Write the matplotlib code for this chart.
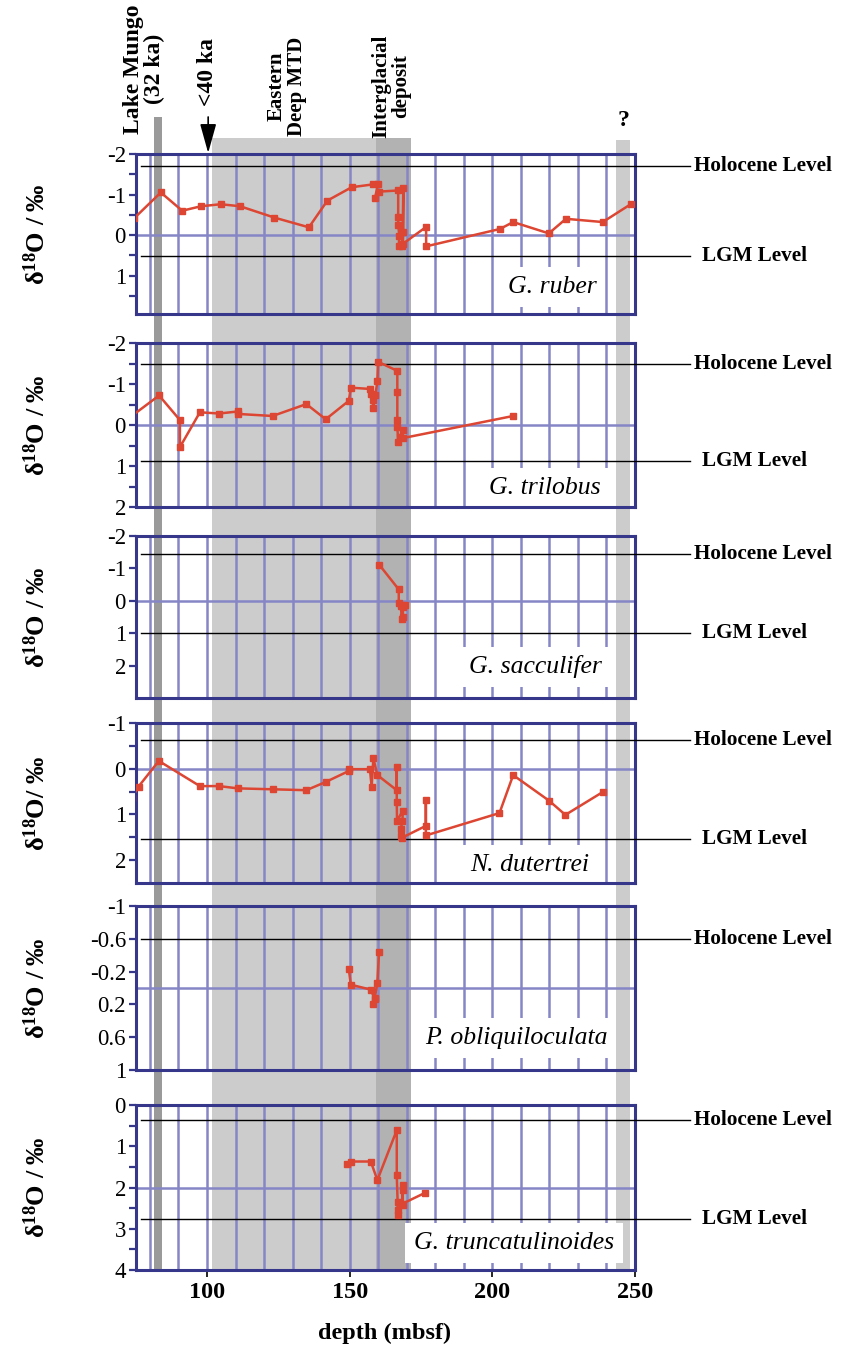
import matplotlib
matplotlib.use("Agg")
import matplotlib.pyplot as plt
from matplotlib.patches import Rectangle
from matplotlib import transforms

plt.rcParams['font.family'] = ['Liberation Serif', 'DejaVu Serif']
plt.rcParams['mathtext.fontset'] = 'custom'
plt.rcParams['mathtext.rm'] = 'Liberation Serif'
plt.rcParams['mathtext.bf'] = 'Liberation Serif:bold'
plt.rcParams['mathtext.it'] = 'Liberation Serif:italic'
plt.rcParams['axes.unicode_minus'] = False

# ---------------- data ----------------
ruber_depth = [74.4, 83.8, 91.3, 97.9, 104.8, 111.6, 123.6, 135.7, 142.2, 150.7, 158.2, 159.9,
               158.9, 160.1, 167.0, 167.0, 167.0, 167.4, 167.2, 168.5, 168.8, 168.8, 168.6,
               176.8, 176.8, 202.7, 207.3, 219.8, 225.8, 238.7, 248.5]
ruber_d18O = [-0.41, -1.05, -0.60, -0.71, -0.76, -0.71, -0.43, -0.19, -0.85, -1.18, -1.25, -1.25,
              -0.92, -1.07, -1.10, -0.45, -0.25, 0.02, 0.27, 0.27, -1.15, -0.08, 0.22,
              -0.20, 0.28, -0.15, -0.32, -0.04, -0.40, -0.32, -0.76]

trilobus_depth = [73.8, 83.2, 90.5, 90.5, 97.5, 104.2, 110.8, 110.8, 123.0, 134.8, 141.6, 149.7,
                  150.4, 157.0, 157.6, 158.0, 158.3, 159.0, 159.7, 160.0, 166.7, 166.7, 166.7,
                  166.7, 167.0, 167.5, 168.6, 168.6, 207.3]
trilobus_d18O = [-0.23, -0.72, -0.12, 0.54, -0.31, -0.28, -0.33, -0.27, -0.22, -0.51, -0.14, -0.59,
                 -0.91, -0.88, -0.75, -0.60, -0.42, -0.72, -1.07, -1.54, -1.32, -0.80, -0.12,
                 0.04, 0.42, 0.30, 0.12, 0.32, -0.22]

sacculifer_depth = [160.3, 167.2, 167.2, 169.5, 168.0, 168.2, 168.7, 168.6]
sacculifer_d18O = [-1.12, -0.35, 0.08, 0.13, 0.15, 0.55, 0.50, 0.20]

dutertrei_depth = [73.8, 76.0, 83.1, 97.5, 104.2, 110.8, 123.0, 134.8, 141.6, 149.7, 149.9, 157.1,
                   157.7, 158.3, 159.7, 166.5, 166.5, 166.5, 166.6, 168.6, 168.5, 167.9, 167.9,
                   168.3, 176.7, 176.7, 176.7, 202.5, 207.3, 219.9, 225.6, 238.7]
dutertrei_d18O = [0.63, 0.39, -0.17, 0.38, 0.38, 0.43, 0.45, 0.47, 0.29, 0.05, 0.01, 0.01,
                  0.40, -0.23, 0.14, 0.47, -0.04, 0.72, 1.14, 0.92, 1.15, 1.32, 1.48,
                  1.51, 1.25, 0.68, 1.46, 0.97, 0.14, 0.70, 1.01, 0.51]

obliq_depth = [149.7, 150.4, 157.4, 158.7, 158.2, 158.8, 159.7, 160.3]
obliq_d18O = [-0.23, -0.04, 0.02, 0.13, 0.20, 0.12, -0.06, -0.44]

trunc_depth = [149.2, 150.4, 157.4, 159.7, 166.5, 166.5, 166.8, 166.8, 167.0, 168.6, 168.6,
               168.6, 168.3, 176.4]
trunc_d18O = [1.44, 1.37, 1.37, 1.82, 0.61, 1.70, 2.34, 2.67, 2.55, 2.42, 1.94,
              2.06, 2.40, 2.13]

species = ["G. ruber", "G. trilobus", "G. sacculifer", "N. dutertrei",
           "P. obliquiloculata", "G. truncatulinoides"]
depths = [ruber_depth, trilobus_depth, sacculifer_depth, dutertrei_depth, obliq_depth, trunc_depth]
values = [ruber_d18O, trilobus_d18O, sacculifer_d18O, dutertrei_d18O, obliq_d18O, trunc_d18O]
holocene_level = [-1.70, -1.49, -1.43, -0.62, -0.60, 0.36]
lgm_level = [0.52, 0.89, 1.00, 1.53, None, 2.77]
ylims = [(-2, 1.95), (-2, 2), (-2, 3), (-1, 2.5), (-1, 1), (0, 4)]
major_ticks = [[-2, -1, 0, 1], [-2, -1, 0, 1, 2], [-2, -1, 0, 1, 2], [-1, 0, 1, 2],
               [-1, -0.6, -0.2, 0.2, 0.6, 1], [0, 1, 2, 3, 4]]
major_labels = [["-2", "-1", "0", "1"], ["-2", "-1", "0", "1", "2"], ["-2", "-1", "0", "1", "2"],
                ["-1", "0", "1", "2"], ["-1", "-0.6", "-0.2", "0.2", "0.6", "1"],
                ["0", "1", "2", "3", "4"]]
minor_ticks = [[-1.5, -0.5, 0.5, 1.5], [-1.5, -0.5, 0.5, 1.5], [], [-0.5, 0.5, 1.5],
               [], [0.5, 1.5, 2.5, 3.5]]
hgrid = [0, 0, 0, 0, 0, 2]
ylabels = ["$\\mathbf{\\delta^{18}O}$ / ‰"] * 3 + ["$\\mathbf{\\delta^{18}O}$/ ‰"] + \
          ["$\\mathbf{\\delta^{18}O}$ / ‰"] * 2

grid_depths = list(range(80, 250, 10))
x_ticks = [100, 150, 200, 250]
zones = [(81.5, 84.3, '#9a9a9a', 117), (101.8, 159.3, '#cccccc', 138),
         (159.3, 171.4, '#b2b2b2', 138), (243.2, 248.2, '#cccccc', 140)]

# ---------------- layout ----------------
W, H = 853, 1348
fig = plt.figure(figsize=(W / 100, H / 100), dpi=100)
L, R = 135.7, 635.0
XLIM = (75, 250)
panels_px = [(154, 314), (343, 507), (536, 698), (723, 883), (906, 1070), (1105, 1270)]
label_px = [(552, 287), (545, 488), (535, 667), (530, 865), (516, 1038), (514, 1243)]

def fx(px):
    return px / W

def fy(py):
    return 1 - py / H

navy = '#36368a'
gridc = '#8686c6'
red = '#dc4632'

# background axes for shaded zones
bg = fig.add_axes([fx(L), 0, fx(R) - fx(L), 1], zorder=0)
bg.set_xlim(*XLIM)
bg.set_ylim(H, 0)
bg.axis('off')
for x0, x1, c, top in zones:
    bg.add_patch(Rectangle((x0, top), x1 - x0, 1272 - top, facecolor=c, edgecolor='none'))

for i in range(6):
    top, bot = panels_px[i]
    ax = fig.add_axes([fx(L), fy(bot), fx(R) - fx(L), (bot - top) / H], zorder=1)
    ax.patch.set_alpha(0)
    ax.set_xlim(*XLIM)
    y0, y1 = ylims[i]
    ax.set_ylim(y1, y0)
    for g in grid_depths:
        ax.axvline(g, color=gridc, lw=1.8, zorder=1)
    ax.axhline(hgrid[i], color=gridc, lw=1.8, zorder=1)
    for s in ax.spines.values():
        s.set_color(navy)
        s.set_linewidth(2.2)
    ax.set_yticks(major_ticks[i])
    ax.set_yticklabels(major_labels[i])
    ax.set_yticks(minor_ticks[i], minor=True)
    ax.tick_params(axis='y', which='both', direction='out', length=5, width=1.6,
                   color=navy, labelsize=16.5, pad=2)
    if i == 5:
        ax.set_xticks(x_ticks)
        ax.set_xticklabels([str(t) for t in x_ticks])
        ax.tick_params(axis='x', direction='out', length=5, width=1.2, color='black',
                       labelsize=17.5, pad=4)
        for lab in ax.get_xticklabels():
            lab.set_fontweight('bold')
    else:
        ax.set_xticks([])

    ax.plot(depths[i], values[i], color=red, lw=1.8, marker='s', markersize=3.7,
            zorder=3, clip_on=True)

    trans = transforms.blended_transform_factory(ax.transAxes, ax.transData)
    xend = (690 - L) / (R - L)
    xtext = (694 - L) / (R - L)
    ax.plot([0.01, xend], [holocene_level[i]] * 2, color='black', lw=1.0,
            transform=trans, clip_on=False, zorder=2.6)
    ax.text(xtext, holocene_level[i], "Holocene Level", transform=trans, ha='left',
            va='center', fontsize=15.2, fontweight='bold', clip_on=False)
    if lgm_level[i] is not None:
        ax.plot([0.01, xend], [lgm_level[i]] * 2, color='black', lw=1.0,
                transform=trans, clip_on=False, zorder=2.6)
        ax.text((702 - L) / (R - L), lgm_level[i], "LGM Level", transform=trans, ha='left',
                va='center', fontsize=15.2, fontweight='bold', clip_on=False)

    lx, ly = label_px[i]
    ax.text((lx - L) / (R - L), (bot - ly) / (bot - top), species[i], transform=ax.transAxes,
            ha='center', va='center', fontsize=18.5, style='italic', zorder=2.3,
            bbox=dict(boxstyle='square,pad=0.35', facecolor='white', edgecolor='none'))

    fig.text(fx(37), fy((top + bot) / 2), ylabels[i], rotation=90, ha='center', va='center',
             fontsize=19, fontweight='bold')

fig.text(fx(385), fy(1333), "depth (mbsf)", ha='center', va='center', fontsize=17.5,
         fontweight='bold')

# top annotations
top_kw = dict(rotation=90, ha='center', va='center', fontweight='bold',
              multialignment='center', linespacing=1.0)
fig.text(fx(144), fy(69), "Lake Mungo\n(32 ka)", fontsize=17, **top_kw)
fig.text(fx(208), fy(72), "<40 ka", fontsize=17, **top_kw)
fig.text(fx(287), fy(86), "Eastern\nDeep MTD", fontsize=15, **top_kw)
fig.text(fx(391), fy(86), "Interglacial\ndeposit", fontsize=15, **top_kw)
fig.text(fx(624), fy(120), "?", ha='center', va='center', fontsize=17, fontweight='bold')

arrow_depth = 100.4
bg.annotate('', xy=(arrow_depth, 153), xytext=(arrow_depth, 117),
            arrowprops=dict(arrowstyle='-|>,head_length=0.9,head_width=0.25',
                            color='black', lw=1.2, mutation_scale=20, shrinkA=0, shrinkB=0))

fig.savefig("out.png", dpi=100)
